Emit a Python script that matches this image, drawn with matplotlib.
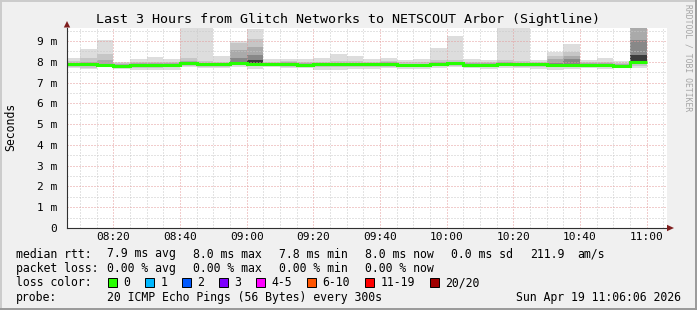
import matplotlib
matplotlib.use('Agg')
import matplotlib.pyplot as plt
import numpy as np
from matplotlib.patches import Polygon, Rectangle
from matplotlib.lines import Line2D
from matplotlib.ticker import MultipleLocator, FuncFormatter

plt.rcParams['font.family'] = 'DejaVu Sans Mono'

# one entry per 5 minute round, labelled by its end time
times = ['08:10', '08:15', '08:20', '08:25', '08:30', '08:35', '08:40', '08:45', '08:50',
         '08:55', '09:00', '09:05', '09:10', '09:15', '09:20', '09:25', '09:30', '09:35',
         '09:40', '09:45', '09:50', '09:55', '10:00', '10:05', '10:10', '10:15', '10:20',
         '10:25', '10:30', '10:35', '10:40', '10:45', '10:50', '10:55', '11:00']

# median rtt in ms
median_ms = [7.88, 7.88, 7.84, 7.82, 7.83, 7.83, 7.86, 7.93, 7.87, 7.87, 7.94, 7.90,
             7.87, 7.87, 7.84, 7.88, 7.88, 7.88, 7.88, 7.89, 7.83, 7.83, 7.90, 7.92,
             7.86, 7.85, 7.90, 7.88, 7.88, 7.86, 7.84, 7.84, 7.85, 7.79, 8.00]

# smoke: upper edges of the shades, light to dark
smoke_hi1 = [8.16, 8.60, 9.04, 8.00, 8.12, 8.22, 8.12, 9.80, 9.80, 8.27, 9.00, 9.58,
             8.12, 8.15, 8.13, 8.20, 8.37, 8.27, 8.13, 8.16, 8.08, 8.13, 8.65, 9.23,
             8.13, 8.10, 9.80, 9.80, 8.10, 8.48, 8.85, 8.10, 8.20, 8.04, 9.80]
smoke_hi2 = [8.02, 8.16, 8.37, 7.95, 8.00, 8.00, 7.98, 8.17, 8.05, 8.00, 8.88, 9.12,
             7.98, 8.05, 8.00, 8.00, 8.02, 8.02, 8.00, 8.05, 7.98, 7.98, 8.10, 8.08,
             8.00, 8.00, 8.10, 8.05, 8.00, 8.29, 8.48, 7.98, 8.00, 7.95, 9.80]
smoke_hi3 = [7.96, 7.98, 8.08, 7.90, 7.93, 7.93, 7.93, 8.02, 7.96, 7.94, 8.56, 8.72,
             7.93, 7.97, 7.92, 7.95, 7.95, 7.96, 7.95, 7.97, 7.90, 7.90, 7.97, 7.98,
             7.93, 7.93, 7.98, 7.96, 7.95, 8.15, 8.30, 7.92, 7.93, 7.88, 9.80]
smoke_hi4 = [7.92, 7.92, 7.90, 7.86, 7.87, 7.87, 7.90, 7.97, 7.91, 7.91, 8.16, 8.32,
             7.91, 7.92, 7.88, 7.92, 7.92, 7.92, 7.92, 7.93, 7.87, 7.87, 7.94, 7.95,
             7.90, 7.89, 7.94, 7.92, 7.92, 7.95, 8.15, 7.88, 7.89, 7.83, 9.05]
smoke_hi5 = [7.90, 7.90, 7.87, 7.84, 7.85, 7.85, 7.88, 7.95, 7.89, 7.89, 8.00, 8.08,
             7.89, 7.90, 7.86, 7.90, 7.90, 7.90, 7.90, 7.91, 7.85, 7.85, 7.92, 7.94,
             7.88, 7.87, 7.92, 7.90, 7.90, 7.88, 7.86, 7.86, 7.87, 7.81, 8.35]
# smoke: lower edges
smoke_lo1 = [7.68, 7.66, 7.74, 7.63, 7.60, 7.61, 7.60, 7.76, 7.70, 7.68, 7.76, 7.65,
             7.75, 7.68, 7.72, 7.62, 7.62, 7.67, 7.67, 7.68, 7.65, 7.66, 7.72, 7.74,
             7.70, 7.67, 7.70, 7.70, 7.66, 7.60, 7.66, 7.70, 7.66, 7.72, 7.72]
smoke_lo2 = [7.76, 7.72, 7.78, 7.72, 7.72, 7.72, 7.74, 7.82, 7.76, 7.76, 7.84, 7.80,
             7.78, 7.76, 7.76, 7.74, 7.74, 7.76, 7.76, 7.77, 7.74, 7.74, 7.80, 7.80,
             7.76, 7.74, 7.78, 7.77, 7.76, 7.74, 7.74, 7.76, 7.74, 7.76, 7.82]
smoke_lo3 = [7.83, 7.82, 7.81, 7.78, 7.79, 7.79, 7.82, 7.89, 7.83, 7.83, 7.90, 7.86,
             7.83, 7.83, 7.80, 7.84, 7.84, 7.84, 7.84, 7.85, 7.79, 7.79, 7.86, 7.88,
             7.82, 7.81, 7.86, 7.84, 7.84, 7.82, 7.80, 7.80, 7.81, 7.75, 7.95]

loss_labels = ['0', '1', '2', '3', '4-5', '6-10', '11-19', '20/20']
loss_colors = ['#26ff00', '#00b8ff', '#0059ff', '#7e00ff', '#ff00ff', '#ff5500', '#ff0000', '#a10000']

W, H = 697, 310
fig = plt.figure(figsize=(W / 100, H / 100), dpi=100, facecolor='#f0f0f0')


def fx(x):
    return x / W


def fy(y):
    return 1 - y / H


ax = fig.add_axes([fx(67), fy(228), fx(667) - fx(67), fy(27.5) - fy(228)])
ax.set_facecolor('white')

t = np.array([int(s[:2]) * 60 + int(s[3:]) for s in times], float)
edges = np.append(t[0] - 5, t)

shades = [(smoke_lo1, smoke_hi1, '#dddddd'),
          (smoke_lo2, smoke_hi2, '#c6c6c6'),
          (smoke_lo3, smoke_hi3, '#aaaaaa'),
          (smoke_lo3, smoke_hi4, '#888888'),
          (smoke_lo3, smoke_hi5, '#3c3c3c')]
for lo, hi, c in shades:
    ax.stairs(hi, edges, baseline=lo, fill=True, color=c, lw=0, zorder=1)

ax.stairs(median_ms, edges, baseline=None, color='#26ff00', lw=2.2, zorder=5)

# 3 hours ending 11:06:06
ax.set_xlim(11 * 60 + 6.1 - 180, 11 * 60 + 6.1)
ax.set_ylim(0, 9.65)

ax.xaxis.set_major_locator(MultipleLocator(20))
ax.xaxis.set_minor_locator(MultipleLocator(5))
ax.yaxis.set_major_locator(MultipleLocator(1))
ax.yaxis.set_minor_locator(MultipleLocator(0.5))
ax.xaxis.set_major_formatter(FuncFormatter(lambda v, p: '%02d:%02d' % (int(round(v)) // 60, int(round(v)) % 60)))
ax.yaxis.set_major_formatter(FuncFormatter(lambda v, p: '0' if v == 0 else '%d m' % round(v)))

ax.set_axisbelow(False)
ax.grid(which='major', color='#e49a9a', ls=(0, (1, 2)), lw=0.72)
ax.grid(which='minor', color='#c8c8c8', ls=(0, (1, 2)), lw=0.72)
ax.tick_params(which='both', length=0, labelsize=8)
ax.tick_params(axis='y', pad=7)
ax.tick_params(axis='x', pad=3)

for s in ['top', 'right']:
    ax.spines[s].set_visible(False)
for s in ['left', 'bottom']:
    ax.spines[s].set_color('#303030')
    ax.spines[s].set_linewidth(0.8)
    ax.spines[s].set_zorder(6)

# axis arrows
def px_poly(pts, color):
    fig.add_artist(Polygon([(fx(x), fy(y)) for x, y in pts], closed=True,
                           transform=fig.transFigure, color=color, lw=0))

px_poly([(63.8, 27.5), (70.2, 27.5), (67, 21)], '#7f1f1f')
px_poly([(667, 224.8), (667, 231.2), (674, 228)], '#7f1f1f')

fig.text(0.5, fy(19), 'Last 3 Hours from Glitch Networks to NETSCOUT Arbor (Sightline)',
         ha='center', va='center', fontsize=9.6)
fig.text(fx(11), fy(127), 'Seconds', rotation=90, ha='center', va='center', fontsize=8.3)
fig.text(fx(688), fy(4), 'RRDTOOL / TOBI OETIKER', rotation=-90, ha='center', va='top',
         fontsize=5.8, color='#a4a4a4')

fs = 8.3
row1, row2, row3, row4 = fy(254), fy(268.5), fy(283), fy(297.5)
fig.text(fx(16), row1, 'median rtt:', va='center', fontsize=fs)
for x, s in [(107, '7.9 ms avg'), (193, '8.0 ms max'), (279, '7.8 ms min'),
             (365, '8.0 ms now'), (451, '0.0 ms sd'), (530, '211.9'), (577, 'am/s')]:
    fig.text(fx(x), row1, s, va='center', fontsize=fs)

fig.text(fx(16), row2, 'packet loss:', va='center', fontsize=fs)
for x, s in [(107, '0.00 % avg'), (193, '0.00 % max'), (279, '0.00 % min'), (365, '0.00 % now')]:
    fig.text(fx(x), row2, s, va='center', fontsize=fs)

fig.text(fx(16), row3, 'loss color:', va='center', fontsize=fs)
box_x = [108, 145, 182, 219, 256, 307, 365, 430]
for bx, lab, col in zip(box_x, loss_labels, loss_colors):
    fig.add_artist(Rectangle((fx(bx), fy(286.5)), 8.5 / W, 8.5 / H, transform=fig.transFigure,
                             facecolor=col, edgecolor='black', lw=0.7))
    fig.text(fx(bx + 15.5), row3, lab, va='center', fontsize=fs)

fig.text(fx(16), row4, 'probe:', va='center', fontsize=fs)
fig.text(fx(107), row4, '20 ICMP Echo Pings (56 Bytes) every 300s', va='center', fontsize=fs)
fig.text(fx(681), row4, 'Sun Apr 19 11:06:06 2026', va='center', ha='right', fontsize=fs)

# image frame
fig.add_artist(Line2D([0, 1], [fy(0.5), fy(0.5)], transform=fig.transFigure, color='#cbcbcb', lw=1.4))
fig.add_artist(Line2D([fx(0.5), fx(0.5)], [0, 1], transform=fig.transFigure, color='#cbcbcb', lw=1.4))
fig.add_artist(Line2D([0, 1], [fy(309), fy(309)], transform=fig.transFigure, color='#999999', lw=1.4))
fig.add_artist(Line2D([fx(696), fx(696)], [0, 1], transform=fig.transFigure, color='#999999', lw=1.4))

fig.savefig('out.png', dpi=100, facecolor=fig.get_facecolor())
